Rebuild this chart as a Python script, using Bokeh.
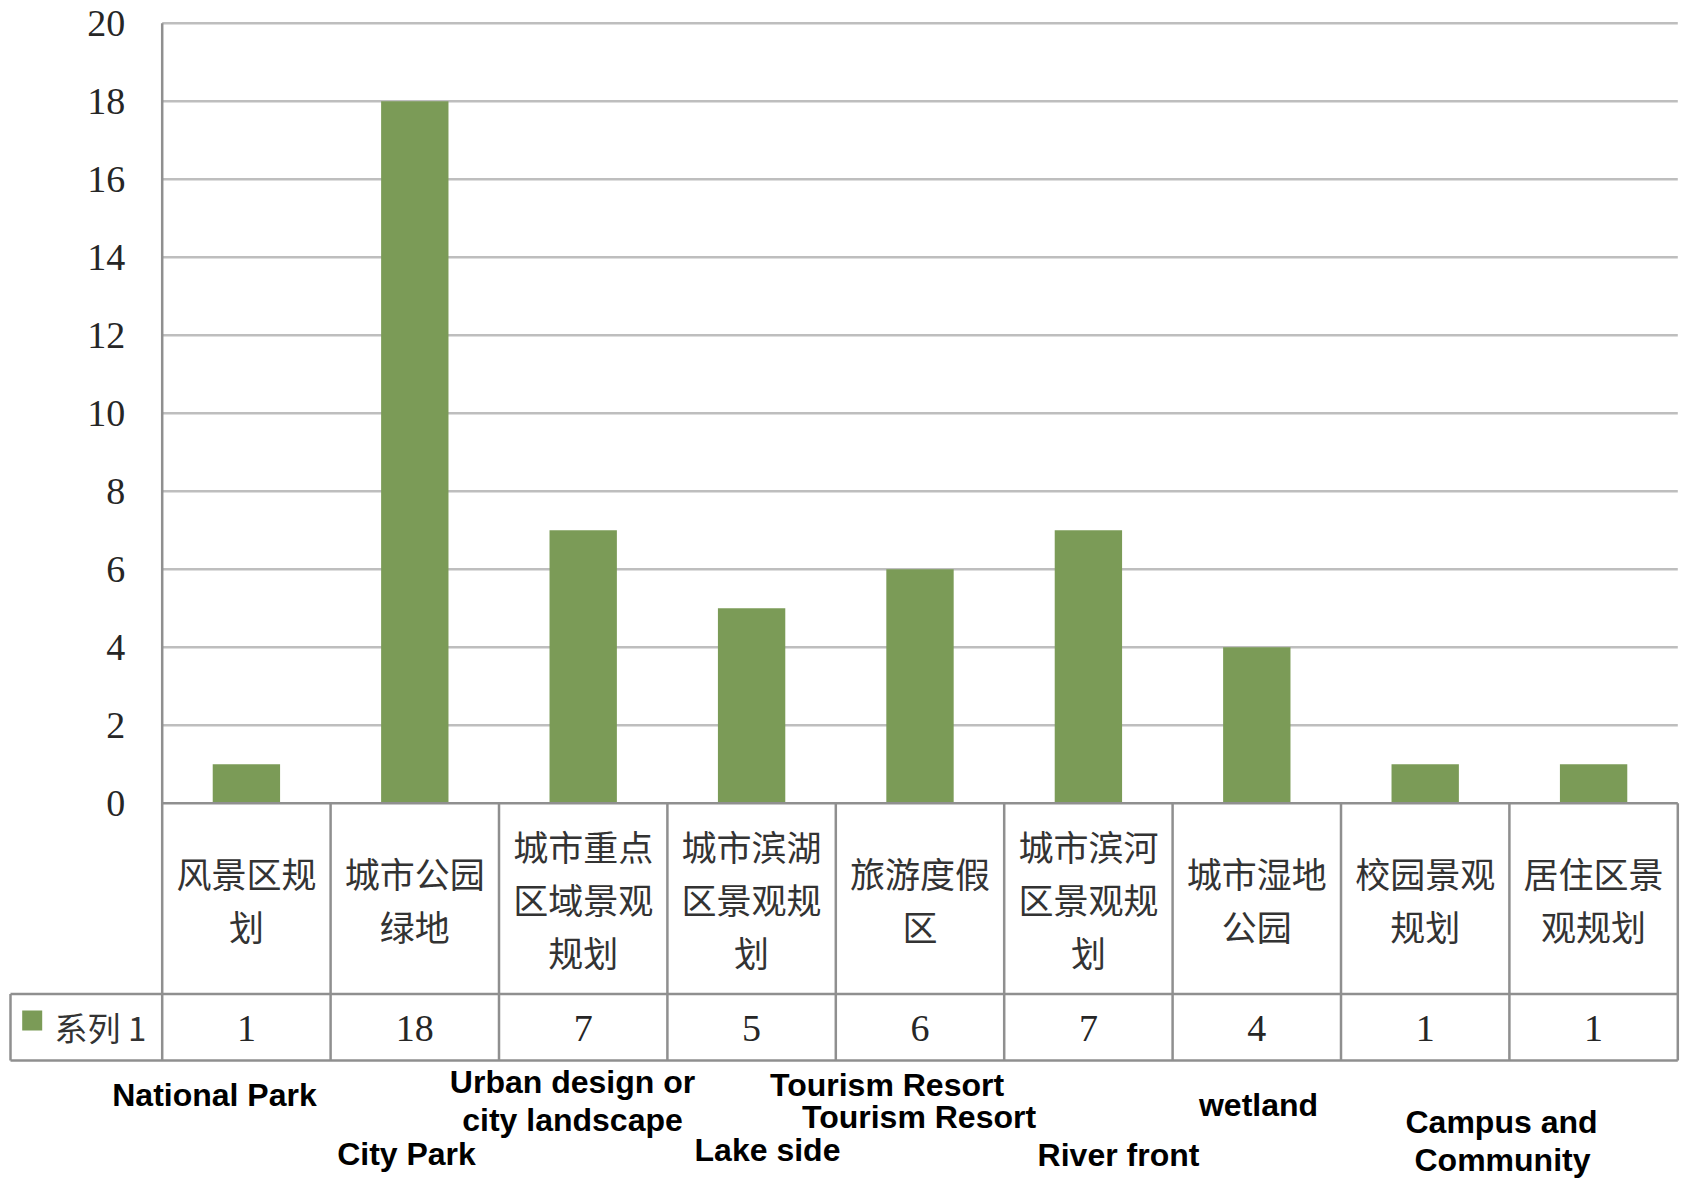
from bokeh.plotting import figure
from bokeh.models import Range1d, FixedTicker
from bokeh.core.properties import value
from bokeh.embed import file_html
from bokeh.resources import INLINE

# ---------------- data ----------------
categories = ["风景区规划", "城市公园绿地", "城市重点区域景观规划", "城市滨湖区景观规划",
              "旅游度假区", "城市滨河区景观规划", "城市湿地公园", "校园景观规划", "居住区景观规划"]
counts = [1, 18, 7, 5, 6, 7, 4, 1, 1]
series_name = "系列 1"
y_ticks = [0, 2, 4, 6, 8, 10, 12, 14, 16, 18, 20]
english_labels = ["National Park", "City Park", "Urban design or", "city landscape", "Lake side",
                  "Tourism  Resort", "Tourism  Resort", "River front", "wetland",
                  "Campus and", "Community"]

# ---------------- layout (pixels) ----------------
W, H = 1682, 1178
AXIS_PX = 161.7          # left edge of plot area
COL_PX = 168.4           # width of a category column
ZERO_PX = 802.7          # pixel row of value 0
UNIT_PX = 39.0           # pixels per unit
LABEL_ROW_BOTTOM = 993.5
TABLE_BOTTOM = 1060.0
LEGEND_LEFT = 10.0

def dx(px):
    return (px - AXIS_PX) / COL_PX - 0.5

def dy(py):
    return (ZERO_PX - py) / UNIT_PX

english_pos = [(214, 1094), (406, 1153), (572, 1081), (572, 1119), (767, 1149),
               (891, 1084), (923, 1116), (1118, 1154), (1258, 1104),
               (1501, 1121), (1502, 1159)]

GREEN = "#7B9B57"
GRID = "#BEBEBE"
TABLE = "#8F8F8F"
SERIF = "Liberation Serif"
CJK = "Noto Sans CJK SC"

p = figure(width=W, height=H,
           x_range=Range1d(dx(0), dx(W)), y_range=Range1d(dy(H), dy(0)),
           x_axis_location=None, y_axis_location="left",
           toolbar_location=None, output_backend="svg",
           min_border=0, min_border_left=0, min_border_right=0,
           min_border_top=0, min_border_bottom=0,
           outline_line_color=None, background_fill_color="white",
           border_fill_color="white")
p.grid.visible = False

ax = p.yaxis[0]
ax.fixed_location = -0.5
ax.ticker = FixedTicker(ticks=y_ticks)
ax.axis_line_color = None
ax.major_tick_line_color = None
ax.minor_tick_line_color = None
ax.major_label_standoff = 31
ax.major_label_text_font = SERIF
ax.major_label_text_font_size = "38px"
ax.major_label_text_color = "#262626"

n = len(categories)
idx = list(range(n))

# gridlines
gt = [t for t in y_ticks if t > 0]
p.segment(x0=[-0.5] * len(gt), x1=[n - 0.5] * len(gt), y0=gt, y1=gt,
          line_color=GRID, line_width=2.5)

# bars
p.vbar(x=idx, top=counts, bottom=0, width=0.4, fill_color=GREEN, line_color=None)

# table lines
y_mid = dy(LABEL_ROW_BOTTOM)
y_bot = dy(TABLE_BOTTOM)
x_leg = dx(LEGEND_LEFT)
hx0 = [-0.5, x_leg, x_leg]
hx1 = [n - 0.5] * 3
hy = [0, y_mid, y_bot]
p.segment(x0=hx0, x1=hx1, y0=hy, y1=hy, line_color=TABLE, line_width=2.5)
vx = [k - 0.5 for k in range(n + 1)] + [x_leg]
vy0 = [dy(22.7)] + [0] * n + [y_mid]
vy1 = [y_bot] * (n + 1) + [y_bot]
p.segment(x0=vx, x1=vx, y0=vy0, y1=vy1, line_color=TABLE, line_width=2.5)

# category labels (wrapped 4 characters per line)
cell_mid = (ZERO_PX + LABEL_ROW_BOTTOM) / 2
line_gap = 53.0
tx, ty, tt = [], [], []
for i, name in enumerate(categories):
    lines = [name[k:k + 4] for k in range(0, len(name), 4)]
    m = len(lines)
    for j, ln in enumerate(lines):
        tx.append(i)
        ty.append(dy(cell_mid + (j - (m - 1) / 2) * line_gap))
        tt.append(ln)
p.text(x=tx, y=ty, text=tt, text_align="center", text_baseline="middle",
       text_font=value(CJK), text_font_size="35px", text_color="#333333")

# values row
val_mid = dy((LABEL_ROW_BOTTOM + TABLE_BOTTOM) / 2 + 1)
p.text(x=idx, y=[val_mid] * n, text=[str(c) for c in counts],
       text_align="center", text_baseline="middle",
       text_font=value(SERIF), text_font_size="38px", text_color="#262626")

# legend key
p.scatter(x=[dx(31.7)], y=[dy(1020)], marker="square", size=20,
          fill_color=GREEN, line_color=None)
p.text(x=[dx(54)], y=[dy(1026)], text=[series_name], text_align="left",
       text_baseline="middle", text_font=value(CJK), text_font_size="33px",
       text_color="#333333")

# english annotations
p.text(x=[dx(px) for px, _ in english_pos], y=[dy(py) for _, py in english_pos],
       text=english_labels, text_align="center", text_baseline="middle",
       text_font=value("Liberation Sans"), text_font_style="bold",
       text_font_size="32px", text_color="black")

open("out.html", "w").write(file_html(p, INLINE))
